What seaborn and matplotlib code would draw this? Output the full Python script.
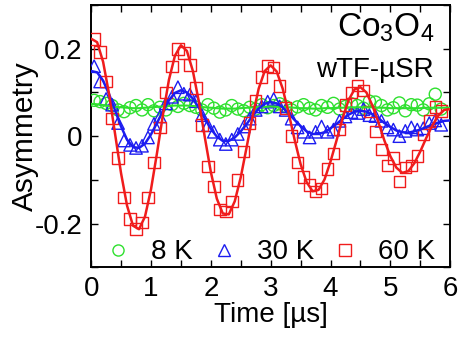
import numpy as np
import pandas as pd
import matplotlib
matplotlib.use("Agg")
import matplotlib.pyplot as plt
from matplotlib.lines import Line2D
from matplotlib.ticker import MultipleLocator, FixedLocator
import seaborn as sns

# ---------------- data ----------------
t_data = [round(0.05 + 0.1 * i, 2) for i in range(59)]
t_fit = [round(0.1 * i, 1) for i in range(61)]

asym_8K = [0.082, 0.079, 0.075, 0.070, 0.060, 0.056, 0.065, 0.070, 0.060, 0.072,
           0.058, 0.066, 0.060, 0.072, 0.068, 0.075, 0.070, 0.066, 0.060, 0.072,
           0.064, 0.055, 0.060, 0.070, 0.062, 0.058, 0.066, 0.062, 0.072, 0.065,
           0.070, 0.074, 0.068, 0.060, 0.067, 0.072, 0.064, 0.060, 0.070, 0.066,
           0.075, 0.062, 0.068, 0.074, 0.070, 0.064, 0.080, 0.078, 0.070, 0.060,
           0.065, 0.076, 0.058, 0.072, 0.071, 0.060, 0.074, 0.096, 0.062]

asym_30K = [0.160, 0.125, 0.085, 0.072, 0.030, -0.010, -0.020, -0.027, -0.022, -0.003,
            0.028, 0.045, 0.075, 0.090, 0.112, 0.097, 0.095, 0.080, 0.048, 0.025,
            0.010, -0.008, -0.018, -0.008, 0.005, 0.022, 0.040, 0.060, 0.068, 0.079,
            0.085, 0.068, 0.060, 0.040, 0.020, 0.010, -0.003, 0.010, 0.022, 0.010,
            0.015, 0.035, 0.045, 0.055, 0.053, 0.062, 0.048, 0.046, 0.035, 0.020,
            0.015, 0.000, 0.012, 0.020, 0.015, 0.018, 0.030, 0.036, 0.026]

asym_60K = [0.222, 0.193, 0.125, 0.040, -0.050, -0.140, -0.190, -0.212, -0.197, -0.140,
            -0.060, 0.020, 0.100, 0.160, 0.199, 0.190, 0.163, 0.110, 0.025, -0.070,
            -0.115, -0.168, -0.172, -0.150, -0.100, -0.035, 0.030, 0.082, 0.135, 0.161,
            0.157, 0.115, 0.064, 0.000, -0.060, -0.093, -0.112, -0.127, -0.120, -0.075,
            -0.040, 0.015, 0.071, 0.100, 0.116, 0.105, 0.056, 0.011, -0.030, -0.067,
            -0.050, -0.104, -0.072, -0.067, -0.045, 0.004, 0.035, 0.067, 0.058]

fit_8K = [0.074, 0.073, 0.071, 0.069, 0.067, 0.066, 0.065, 0.064, 0.064, 0.065,
          0.066, 0.067, 0.068, 0.069, 0.070, 0.070, 0.070, 0.069, 0.068, 0.066,
          0.065, 0.064, 0.063, 0.063, 0.063, 0.064, 0.065, 0.066, 0.067, 0.067,
          0.068, 0.067, 0.067, 0.066, 0.065, 0.064, 0.064, 0.063, 0.063, 0.064,
          0.064, 0.065, 0.065, 0.066, 0.066, 0.066, 0.066, 0.066, 0.065, 0.065,
          0.064, 0.064, 0.064, 0.064, 0.064, 0.064, 0.065, 0.065, 0.065, 0.065, 0.065]

fit_30K = [0.149, 0.146, 0.127, 0.096, 0.059, 0.022, -0.008, -0.025, -0.027, -0.017,
           0.004, 0.030, 0.058, 0.082, 0.099, 0.105, 0.100, 0.086, 0.065, 0.040,
           0.017, -0.001, -0.011, -0.011, -0.003, 0.011, 0.028, 0.047, 0.063, 0.074,
           0.078, 0.075, 0.066, 0.052, 0.037, 0.023, 0.011, 0.005, 0.005, 0.009,
           0.018, 0.028, 0.039, 0.049, 0.056, 0.058, 0.056, 0.050, 0.041, 0.030,
           0.021, 0.013, 0.009, 0.008, 0.011, 0.015, 0.021, 0.026, 0.031, 0.035, 0.036]

fit_60K = [0.223, 0.215, 0.170, 0.096, 0.005, -0.085, -0.159, -0.205, -0.213, -0.184,
           -0.122, -0.039, 0.049, 0.129, 0.184, 0.208, 0.195, 0.149, 0.079, -0.003,
           -0.082, -0.143, -0.177, -0.179, -0.149, -0.094, -0.024, 0.047, 0.109, 0.149,
           0.162, 0.148, 0.109, 0.053, -0.008, -0.064, -0.105, -0.126, -0.123, -0.099,
           -0.058, -0.010, 0.040, 0.082, 0.107, 0.112, 0.100, 0.070, 0.032, -0.010,
           -0.046, -0.072, -0.084, -0.080, -0.062, -0.035, -0.004, 0.024, 0.047, 0.060, 0.062]

labels = ["8 K", "30 K", "60 K"]
colors = ["#2ee02e", "#1c1cf0", "#f01c1c"]
markers = ["o", "^", "s"]

# ---------------- style ----------------
sns.set_theme(style="ticks")
plt.rcParams["font.family"] = ["Liberation Sans", "DejaVu Sans"]
plt.rcParams["mathtext.fontset"] = "custom"
plt.rcParams["mathtext.rm"] = "Liberation Sans"
plt.rcParams["mathtext.it"] = "Liberation Sans"

fig = plt.figure(figsize=(4.58, 3.37), dpi=100)
ax = fig.add_axes([0.199, 0.207, 0.784, 0.778])

data_sets = [asym_8K, asym_30K, asym_60K]
fit_sets = [fit_8K, fit_30K, fit_60K]
sizes = [75, 80, 68]
widths = [1.5, 1.8, 1.8]
for lab, col, mk, d, f, s, lw in zip(labels, colors, markers, data_sets, fit_sets, sizes, widths):
    df = pd.DataFrame({"t": t_data, "A": d})
    sns.scatterplot(data=df, x="t", y="A", marker=mk, s=s, facecolors="none",
                    edgecolor=col, linewidth=1.0, ax=ax, zorder=3)
    dff = pd.DataFrame({"t": t_fit, "A": f})
    sns.lineplot(data=dff, x="t", y="A", color=col, linewidth=lw, ax=ax,
                 estimator=None, sort=False, zorder=4)

ax.set_xlim(0, 6)
ax.set_ylim(-0.3, 0.3)
ax.xaxis.set_major_locator(FixedLocator([0, 1, 2, 3, 4, 5, 6]))
ax.xaxis.set_minor_locator(MultipleLocator(0.5))
ax.yaxis.set_major_locator(FixedLocator([-0.2, 0, 0.2]))
ax.yaxis.set_minor_locator(MultipleLocator(0.1))
ax.set_xticklabels(["0", "1", "2", "3", "4", "5", "6"])
ax.set_yticklabels(["-0.2", "0", "0.2"])
ax.tick_params(which="both", direction="in", top=True, right=True,
               length=5, width=1.0, color="black", labelsize=20, pad=6,
               labelcolor="black")
for sp in ax.spines.values():
    sp.set_linewidth(1.4)
    sp.set_color("black")

ax.set_xlabel("Time [µs]", fontsize=20, labelpad=0, color="black")
ax.set_ylabel("Asymmetry", fontsize=21.5, labelpad=-3, color="black")

ax.text(0.955, 0.975, r"Co$_3$O$_4$", transform=ax.transAxes, ha="right", va="top",
        fontsize=24, color="black")
ax.text(0.955, 0.80, "wTF-µSR", transform=ax.transAxes, ha="right", va="top",
        fontsize=20, color="black")

handles = [Line2D([], [], marker=mk, linestyle="none", markerfacecolor="none",
                  markeredgecolor=col, markersize=8, markeredgewidth=1.0)
           for mk, col in zip(markers, colors)]
leg = ax.legend(handles, labels, loc="lower center", ncol=3, frameon=False,
                fontsize=20, handlelength=0.6, handletextpad=0.9,
                columnspacing=0.8, bbox_to_anchor=(0.505, -0.035), borderaxespad=0)
for txt in leg.get_texts():
    txt.set_color("black")

fig.savefig("out.png", dpi=100)
